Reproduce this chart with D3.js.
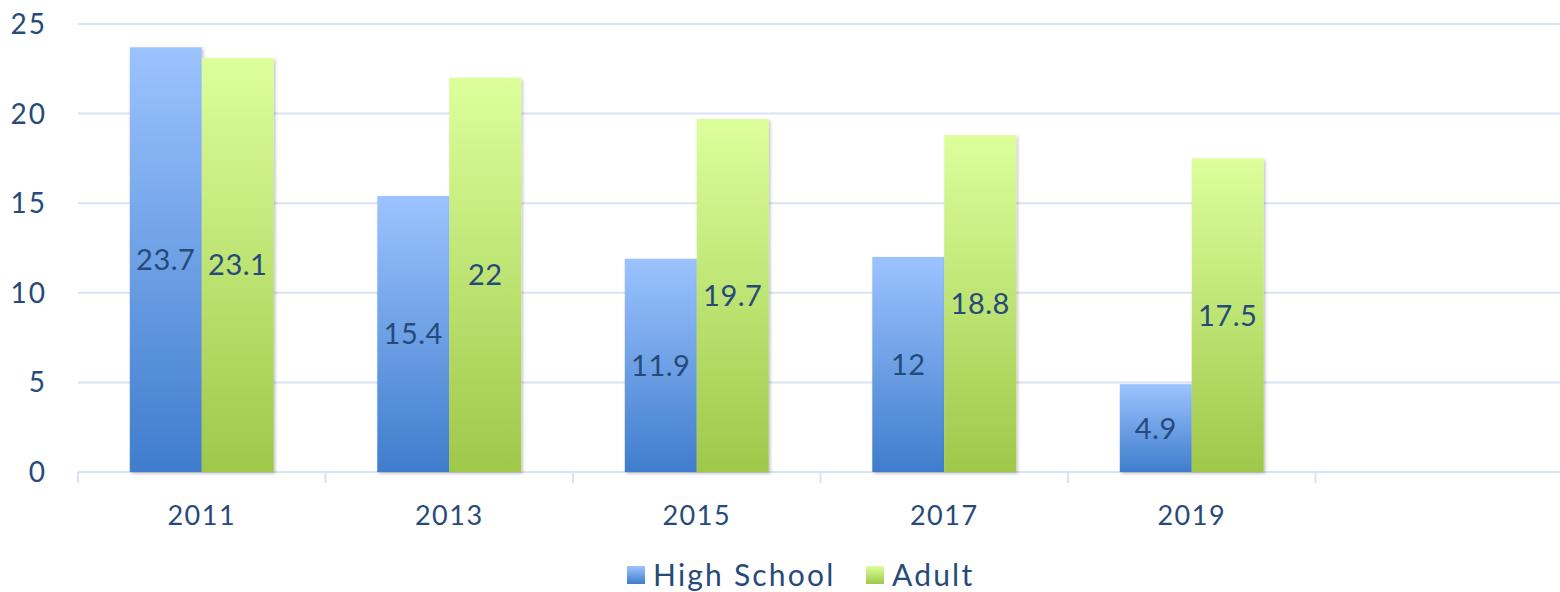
<!DOCTYPE html>
<html>
<head>
<meta charset="utf-8">
<script src="https://cdn.jsdelivr.net/npm/d3@7/dist/d3.min.js"></script>
<style>
  body { margin: 0; background: #fff; }
  svg text { font-family: "Lato", "DejaVu Sans", sans-serif; fill: #264a7a; }
</style>
</head>
<body>
<svg id="chart" width="1560" height="592"></svg>
<script>
var years = ['2011', '2013', '2015', '2017', '2019', '']
var series = ['High School', 'Adult']
var highSchool = [23.7, 15.4, 11.9, 12, 4.9]
var adult = [23.1, 22, 19.7, 18.8, 17.5]
var yTicks = [0, 5, 10, 15, 20, 25]

var svg = d3.select('#chart')
var margin = { left: 78, right: 0, top: 24, bottom: 120 }
var width = +svg.attr('width')
var height = +svg.attr('height')

var defs = svg.append('defs')
var gradBlue = defs.append('linearGradient').attr('id', 'gBlue').attr('x1', 0).attr('y1', 0).attr('x2', 0).attr('y2', 1)
gradBlue.append('stop').attr('offset', '0%').attr('stop-color', '#9cc3ff')
gradBlue.append('stop').attr('offset', '100%').attr('stop-color', '#3f7dcc')
var gradGreen = defs.append('linearGradient').attr('id', 'gGreen').attr('x1', 0).attr('y1', 0).attr('x2', 0).attr('y2', 1)
gradGreen.append('stop').attr('offset', '0%').attr('stop-color', '#dcff9c')
gradGreen.append('stop').attr('offset', '100%').attr('stop-color', '#9fc84a')
var shadow = defs.append('filter').attr('id', 'shadow').attr('x', '-10%').attr('y', '-10%').attr('width', '130%').attr('height', '130%')
shadow.append('feDropShadow').attr('dx', 1.5).attr('dy', 1.5).attr('stdDeviation', 1.5).attr('flood-color', '#000').attr('flood-opacity', 0.25)

var fills = ['url(#gBlue)', 'url(#gGreen)']

var x0 = d3.scaleBand().domain(years).range([margin.left, 1563]).padding(0)
var x1 = d3.scaleBand().domain(series).range([0, x0.bandwidth()]).paddingInner(0).paddingOuter(0.72)
var y = d3.scaleLinear().domain([0, 25]).range([472, margin.top])

// gridlines
svg.append('g')
    .selectAll('line')
    .data(yTicks.filter(d => d > 0))
    .enter()
    .append('line')
    .attr('x1', margin.left)
    .attr('x2', width)
    .attr('y1', d => y(d))
    .attr('y2', d => y(d))
    .attr('stroke', '#d9e3f3')
    .attr('stroke-width', 2)

// y labels
svg.append('g')
    .selectAll('text')
    .data(yTicks)
    .enter()
    .append('text')
    .attr('x', 47)
    .attr('y', d => y(d))
    .attr('dy', '0.36em')
    .attr('text-anchor', 'end')
    .attr('font-size', 28)
    .attr('letter-spacing', 2)
    .text(d => d)

// x axis
var xAxis = svg.append('g')
xAxis.append('line')
    .attr('x1', margin.left).attr('x2', width)
    .attr('y1', y(0)).attr('y2', y(0))
    .attr('stroke', '#d9e3f3').attr('stroke-width', 2)
xAxis.selectAll('.tick')
    .data(years.concat(['end']))
    .enter()
    .append('line')
    .attr('x1', (d, i) => margin.left + i * x0.step())
    .attr('x2', (d, i) => margin.left + i * x0.step())
    .attr('y1', y(0))
    .attr('y2', y(0) + 11)
    .attr('stroke', '#d9e3f3').attr('stroke-width', 2)
xAxis.selectAll('text')
    .data(years)
    .enter()
    .append('text')
    .attr('x', d => x0(d) + x0.bandwidth() / 2)
    .attr('y', 515)
    .attr('dy', '0.36em')
    .attr('text-anchor', 'middle')
    .attr('font-size', 27)
    .attr('letter-spacing', 1.5)
    .text(d => d)

// bars
var rows = years.slice(0, 5).map(function (yr, i) {
    return { year: yr, values: [highSchool[i], adult[i]] }
})
var groups = svg.append('g')
    .selectAll('g')
    .data(rows)
    .enter()
    .append('g')
    .attr('transform', d => 'translate(' + x0(d.year) + ',0)')

groups.selectAll('rect')
    .data(d => d.values.map((v, j) => ({ s: series[j], v: v, j: j })))
    .enter()
    .append('rect')
    .attr('x', d => x1(d.s))
    .attr('width', x1.bandwidth())
    .attr('y', d => y(d.v))
    .attr('height', d => y(0) - y(d.v))
    .attr('fill', d => fills[d.j])
    .attr('filter', 'url(#shadow)')

groups.selectAll('text')
    .data(d => d.values.map((v, j) => ({ s: series[j], v: v, j: j })))
    .enter()
    .append('text')
    .attr('x', d => x1(d.s) + x1.bandwidth() / 2)
    .attr('y', d => (y(d.v) + y(0)) / 2)
    .attr('dy', '0.36em')
    .attr('text-anchor', 'middle')
    .attr('font-size', 29)
    .attr('letter-spacing', 0.5)
    .text(d => d.v)

// legend
var legend = svg.append('g')
var legX = [627, 866]
series.forEach(function (s, i) {
    legend.append('rect')
        .attr('x', legX[i]).attr('y', 566)
        .attr('width', 18).attr('height', 18)
        .attr('fill', fills[i])
    legend.append('text')
        .attr('x', legX[i] + 26).attr('y', 575)
        .attr('dy', '0.36em')
        .attr('font-size', 30)
        .attr('letter-spacing', 2.2)
        .text(s)
})
</script>
</body>
</html>
